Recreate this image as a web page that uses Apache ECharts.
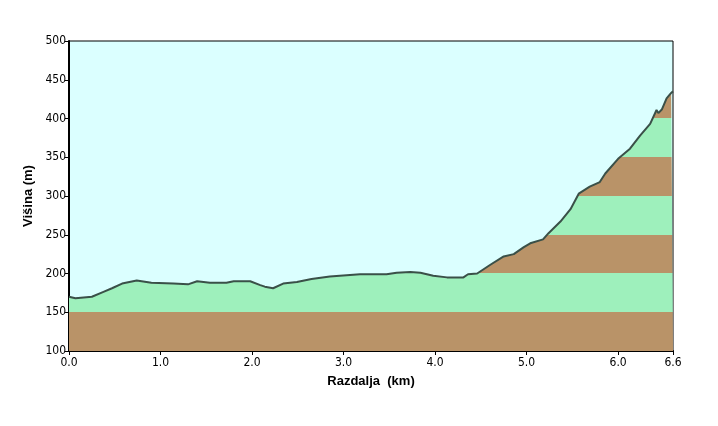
<!DOCTYPE html>
<html>
<head>
<meta charset="utf-8">
<script src="https://cdn.jsdelivr.net/npm/echarts@6/dist/echarts.min.js"></script>
<style>
  html, body { margin: 0; padding: 0; background: #fff; }
  #chart { width: 718px; height: 426px; }
</style>
</head>
<body>
<div id="chart"></div>
<script>
// razdalja (km) in višina (m), odčitano s slike
const distance = [0.00, 0.07, 0.25, 0.37, 0.47, 0.58, 0.74, 0.90, 1.14, 1.30, 1.40, 1.54, 1.72, 1.80, 1.98,
  2.09, 2.14, 2.23, 2.34, 2.49, 2.65, 2.85, 2.96, 3.18, 3.47, 3.58, 3.73, 3.84, 3.98, 4.13, 4.31, 4.36,
  4.46, 4.60, 4.75, 4.86, 4.97, 5.04, 5.18, 5.24, 5.37, 5.48, 5.57, 5.69, 5.80, 5.86, 6.00, 6.13, 6.24,
  6.35, 6.42, 6.44, 6.48, 6.53, 6.58, 6.60];
const elevation = [170, 168, 170, 176, 181, 187, 191, 188, 187, 186, 190, 188, 188, 190, 190,
  185, 183, 181, 187, 189, 193, 196, 197, 199, 199, 201, 202, 201, 197, 195, 195, 199,
  200, 211, 222, 225, 234, 239, 244, 252, 267, 283, 303, 312, 318, 329, 348, 361, 378,
  393, 411, 407, 412, 426, 433, 435];
const bandEdges = [100, 150, 200, 250, 300, 350, 400, 450, 500];
const bandColors = ['#b99368', '#9ef0bc']; // od spodaj navzgor izmenično

const chart = echarts.init(document.getElementById('chart'));
const font = '"Liberation Sans Narrow", "DejaVu Sans Condensed", Arial, sans-serif';

const option = {
  animation: false,
  backgroundColor: '#ffffff',
  grid: {
    left: 69, right: 45, top: 41, bottom: 75,
    show: true, backgroundColor: '#dbffff', borderColor: '#000', borderWidth: 1
  },
  xAxis: {
    type: 'value', min: 0, max: 6.6, interval: 1,
    name: 'Razdalja  (km)', nameLocation: 'middle', nameGap: 24,
    nameTextStyle: { fontFamily: 'Arial, sans-serif', fontWeight: 'bold', fontSize: 13, color: '#000' },
    axisLine: { lineStyle: { color: '#000', width: 2 } },
    axisTick: { length: 4, lineStyle: { color: '#000' } },
    axisLabel: { color: '#000', fontFamily: font, fontSize: 12, margin: 6,
      formatter: v => v.toFixed(1), showMaxLabel: true },
    splitLine: { show: false }
  },
  yAxis: {
    type: 'value', min: 100, max: 500, interval: 50,
    name: 'Višina (m)', nameLocation: 'middle', nameGap: 30,
    nameTextStyle: { fontFamily: 'Arial, sans-serif', fontWeight: 'bold', fontSize: 13, color: '#000' },
    axisLine: { show: true, lineStyle: { color: '#000', width: 2 } },
    axisTick: { show: true, length: 4, lineStyle: { color: '#000' } },
    axisLabel: { color: '#000', fontFamily: font, fontSize: 12, margin: 3 },
    splitLine: { show: false }
  },
  series: [{
    type: 'line',
    data: distance.map((d, i) => [d, elevation[i]]),
    symbol: 'none',
    lineStyle: { color: '#3a5048', width: 2 },
    areaStyle: { color: '#9ef0bc', opacity: 1 },
    z: 2
  }]
};
chart.setOption(option);

// pasovi barv na višinah: gradient v pikslih grafa, od vrha navzdol
const toPx = v => chart.convertToPixel({ yAxisIndex: 0 }, v);
const yTop = toPx(bandEdges[bandEdges.length - 1]);
const yBot = toPx(bandEdges[0]);
const stops = [];
for (let i = bandEdges.length - 2; i >= 0; i--) {
  const c = bandColors[i % 2];
  stops.push({ offset: (toPx(bandEdges[i + 1]) - yTop) / (yBot - yTop), color: c });
  stops.push({ offset: (toPx(bandEdges[i]) - yTop) / (yBot - yTop), color: c });
}
chart.setOption({
  series: [{
    areaStyle: { color: new echarts.graphic.LinearGradient(0, yTop, 0, yBot, stops, true) }
  }]
});
</script>
</body>
</html>
